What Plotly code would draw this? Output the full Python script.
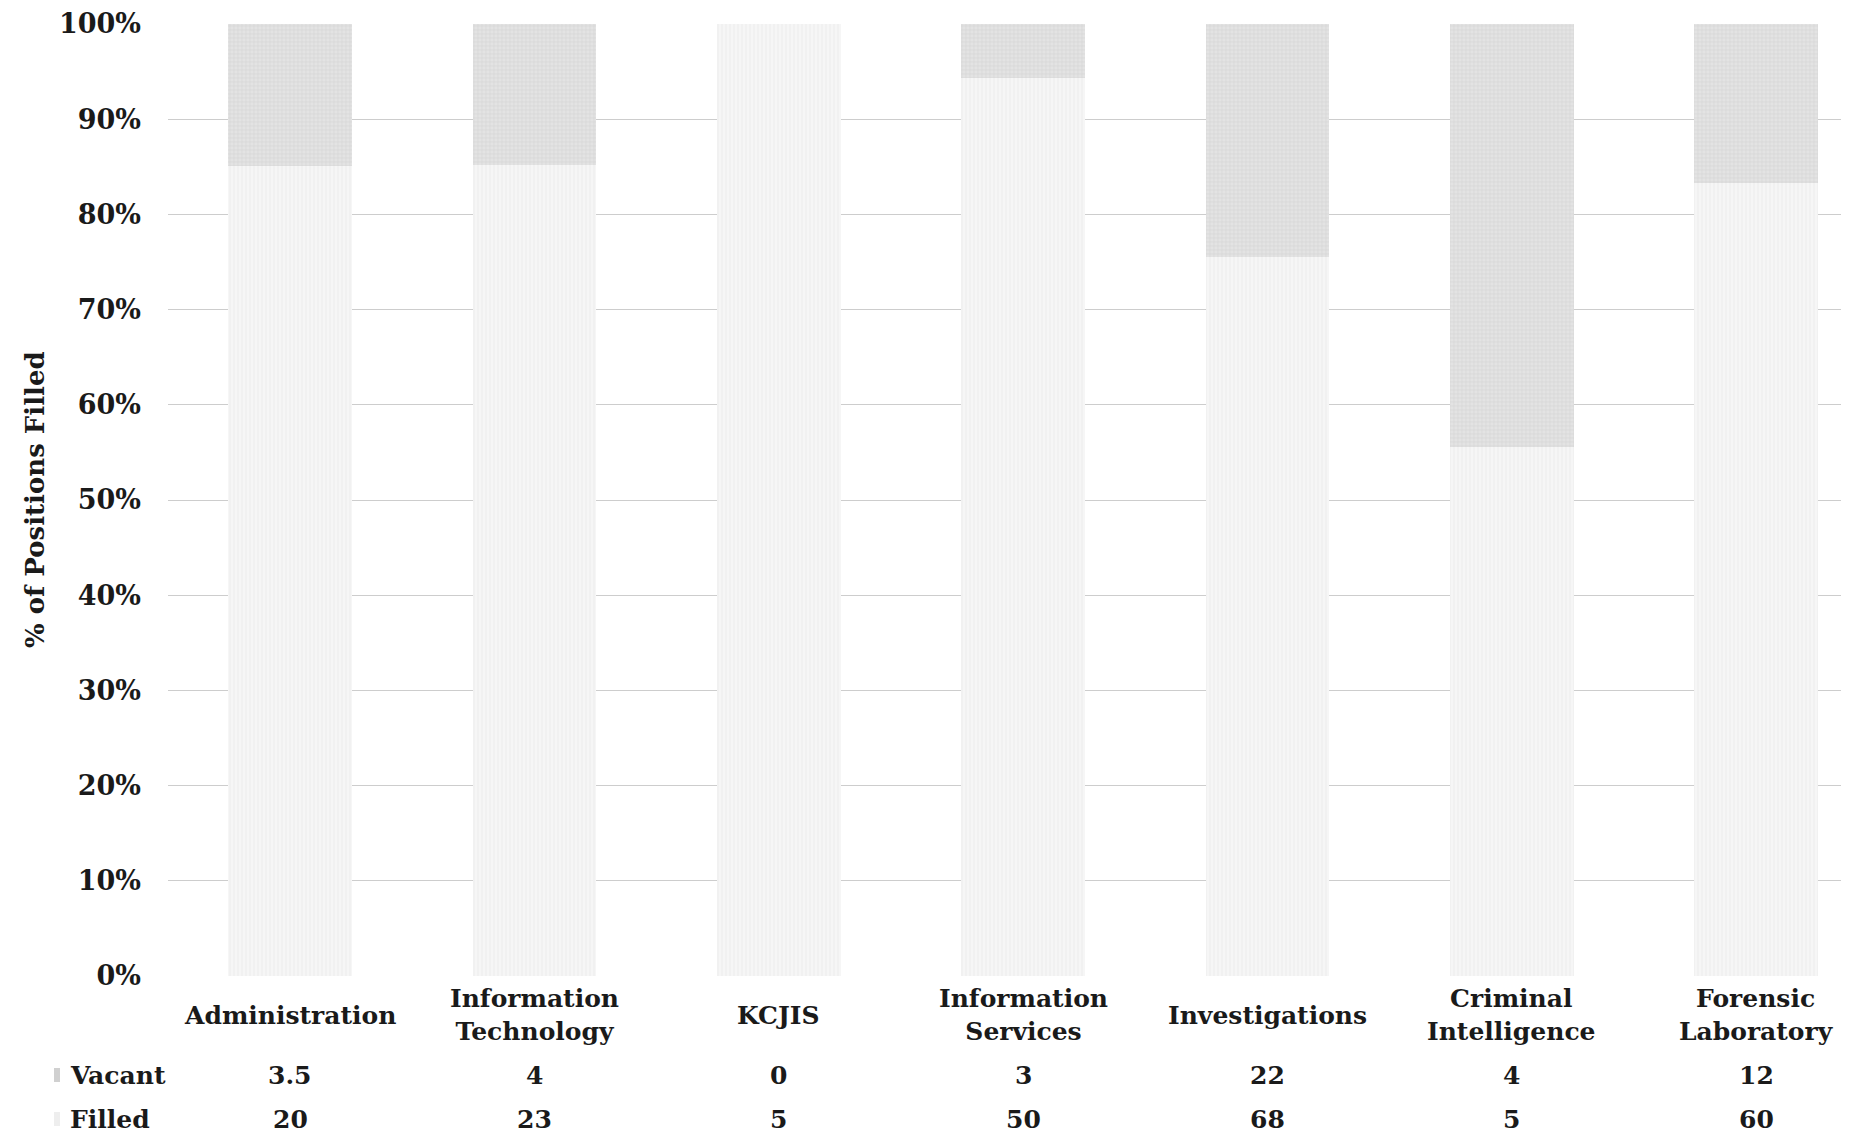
import plotly.graph_objects as go

categories = ["Administration", "Information<br>Technology", "KCJIS", "Information<br>Services",
              "Investigations", "Criminal<br>Intelligence", "Forensic<br>Laboratory"]
vacant = [3.5, 4, 0, 3, 22, 4, 12]
filled = [20, 23, 5, 50, 68, 5, 60]
vacant_labels = ["3.5", "4", "0", "3", "22", "4", "12"]
filled_labels = ["20", "23", "5", "50", "68", "5", "60"]
y_ticks = [0, 10, 20, 30, 40, 50, 60, 70, 80, 90, 100]

x = list(range(len(categories)))
SERIF = "DejaVu Serif"
TXT = "#1a1a1a"

fig = go.Figure()
fig.add_trace(go.Bar(
    x=x, y=filled, name="Filled", width=0.507,
    marker=dict(color="#f4f4f4", line=dict(width=0),
                pattern=dict(shape="|", fgcolor="#e2e2e2", bgcolor="#f6f6f6", size=4, solidity=0.25)),
))
fig.add_trace(go.Bar(
    x=x, y=vacant, name="Vacant", width=0.507,
    marker=dict(color="#dcdcdc", line=dict(width=0),
                pattern=dict(shape="+", fgcolor="#c6c6c6", bgcolor="#e3e3e3", size=4, solidity=0.3)),
))

# page body has an 8px margin, so the figure is shifted by 8px
fig.update_layout(
    barmode="stack", barnorm="percent",
    width=1841, height=1136,
    margin=dict(l=160, r=0, t=16, b=168),
    paper_bgcolor="white", plot_bgcolor="white",
    showlegend=False,
    font=dict(family=SERIF, color=TXT),
)
fig.update_xaxes(range=[-0.5, 6.38], showticklabels=False, showgrid=False, zeroline=False,
                 showline=False, ticks="")
fig.update_yaxes(range=[0, 100], tickvals=y_ticks, ticktext=[f"{v}%" for v in y_ticks],
                 showgrid=True, gridcolor="#cdcdcd", gridwidth=1, zeroline=False,
                 showline=False, ticks="", ticklabelstandoff=26,
                 tickfont=dict(family=SERIF, size=27, weight="bold", color=TXT))

# y axis title
fig.add_annotation(text="% of Positions Filled", xref="paper", yref="paper",
                   x=(35 - 168) / 1681, xanchor="center", y=0.5, yanchor="middle",
                   textangle=-90, showarrow=False,
                   font=dict(family=SERIF, size=26, weight="bold", color=TXT))

# data table beneath the chart (screen pixel -> paper)
plot_h = 952
def py(pix):
    return (976 - pix) / plot_h

tfont = dict(family=SERIF, size=25, weight="bold", color=TXT)
for i, cat in enumerate(categories):
    fig.add_annotation(text=cat, x=i, xref="x", y=py(1015), yref="paper", yanchor="middle",
                       showarrow=False, font=tfont)
    fig.add_annotation(text=vacant_labels[i], x=i, xref="x", y=py(1075), yref="paper",
                       yanchor="middle", showarrow=False, font=tfont)
    fig.add_annotation(text=filled_labels[i], x=i, xref="x", y=py(1119), yref="paper",
                       yanchor="middle", showarrow=False, font=tfont)

for name, ypix in [("Vacant", 1075), ("Filled", 1119)]:
    fig.add_annotation(text=name, x=(68 - 168) / 1681, xref="paper", xanchor="left",
                       y=py(ypix), yref="paper", yanchor="middle", showarrow=False, font=tfont)

# faint legend keys
fig.add_shape(type="rect", xref="paper", yref="paper",
              x0=(54 - 168) / 1681, x1=(60 - 168) / 1681, y0=py(1082), y1=py(1068),
              fillcolor="#d0d0d0", line=dict(width=0))
fig.add_shape(type="rect", xref="paper", yref="paper",
              x0=(54 - 168) / 1681, x1=(60 - 168) / 1681, y0=py(1126), y1=py(1112),
              fillcolor="#eeeeee", line=dict(width=0))

fig.write_html("out.html")
